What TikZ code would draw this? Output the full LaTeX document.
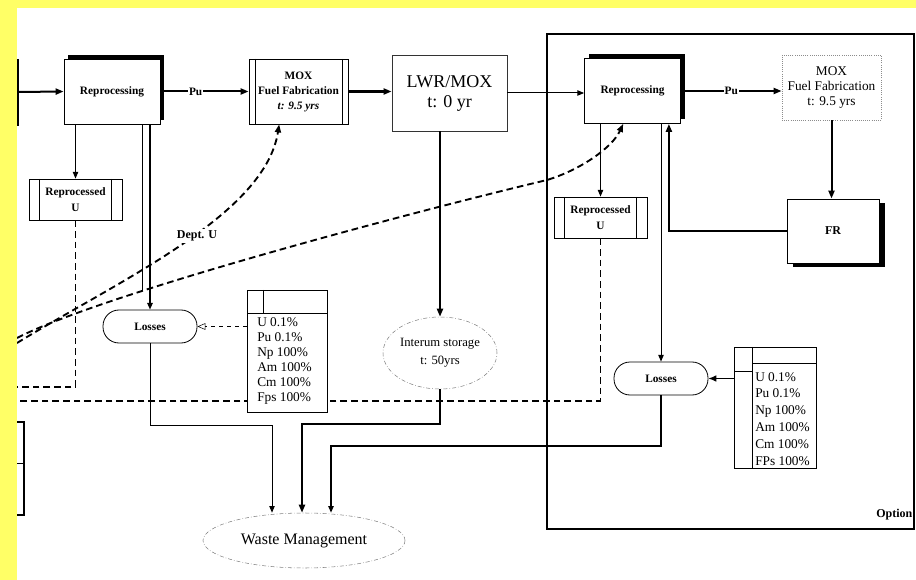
\documentclass[tikz,border=0pt]{standalone}
\usepackage{fontspec}
\setmainfont{Liberation Serif}
\usetikzlibrary{arrows.meta, shapes.geometric, positioning, shadows}
\definecolor{scanyellow}{RGB}{255,255,102}

\begin{document}
\begin{tikzpicture}[x=0.75pt, y=-0.75pt,
    box/.style={draw, fill=white, align=center, inner sep=1pt, line width=0.6pt,
                font=\fontsize{8.5}{11.25}\selectfont\bfseries},
    repbox/.style={box, minimum width=72pt, minimum height=48.75pt,
                   drop shadow={shadow xshift=3pt, shadow yshift=3pt, fill=black, opacity=1}},
    procbox/.style={box, path picture={
        \draw ([xshift=#1]path picture bounding box.north west) -- ([xshift=#1]path picture bounding box.south west);
        \draw ([xshift=-#1]path picture bounding box.north east) -- ([xshift=-#1]path picture bounding box.south east);}},
    procbox/.default=8pt,
    lossbox/.style={box, rounded corners=12pt, minimum width=70.5pt, minimum height=24.75pt},
    store/.style={ellipse, draw=black!50, dash pattern=on 3pt off 1.5pt on 0.5pt off 1.5pt,
                  thin, inner sep=0pt, align=center},
    tabbox/.style={draw, fill=white, inner sep=0pt, line width=0.6pt},
    tabtext/.style={anchor=north west, align=left, inner sep=0pt, font=\fontsize{10}{11.25}\selectfont},
    arr/.style={-{Triangle[length=6pt, width=4.5pt]}, line width=1.5pt},
    thinarr/.style={-{Triangle[length=5pt, width=4pt]}, line width=0.75pt},
    dashline/.style={line width=1.4pt, dash pattern=on 5pt off 3pt},
    lbl/.style={font=\fontsize{8.5}{10}\selectfont\bfseries, fill=white, inner sep=0.5pt}
  ]
  \useasboundingbox (0,0) rectangle (916,580);

  % option frame
  \node[draw, line width=0.9pt, minimum width=275.25pt, minimum height=371.25pt, inner sep=0pt] (optbox) at (730.5,281.5) {};
  \node[font=\fontsize{9}{10}\selectfont\bfseries, anchor=east, inner sep=1pt] (optlbl) at (914,515) {Option};

  % main chain
  \node[repbox] (rep1) at (112,91.5) {Reprocessing};
  \node[procbox=4.5pt, minimum width=74.25pt, minimum height=48.75pt] (mox1) at (298.5,91.5)
    {MOX\\Fuel Fabrication\\\textit{t: 9.5 yrs}};
  \node[box, draw=black!80, font=\fontsize{13.5}{15}\selectfont, minimum width=86.25pt, minimum height=57pt] (lwr) at (449.5,93)
    {LWR/MOX\\t: 0 yr};
  \node[repbox] (rep2) at (632.5,91) {Reprocessing};
  \node[box, draw=black!45, densely dotted, font=\fontsize{10}{11.6}\selectfont, minimum width=74.25pt, minimum height=48.75pt] (mox2) at (831.5,87.5)
    {MOX\\Fuel Fabrication\\t: 9.5 yrs};
  \node[box, font=\fontsize{9}{10}\selectfont\bfseries, minimum width=69pt, minimum height=48pt,
        drop shadow={shadow xshift=4.5pt, shadow yshift=-3pt, fill=black, opacity=1}] (fr) at (833,231) {FR};

  \node[procbox, font=\fontsize{8.5}{12}\selectfont\bfseries, minimum width=69.75pt, minimum height=30.75pt] (ru1) at (75.5,199.5) {Reprocessed\\U};
  \node[procbox, font=\fontsize{8.5}{12}\selectfont\bfseries, minimum width=69.75pt, minimum height=30.75pt] (ru2) at (600.5,217.5) {Reprocessed\\U};

  \node[lossbox] (loss1) at (150,326.5) {Losses};
  \node[lossbox] (loss2) at (661,378.5) {Losses};

  \node[store, minimum width=85.5pt, minimum height=54pt, font=\fontsize{9.5}{13.5}\selectfont] (inter) at (440,353)
    {Interum storage\\t: 50yrs};
  \node[store, minimum width=151.5pt, minimum height=41.25pt, font=\fontsize{12}{14}\selectfont] (wm) at (304,540.5)
    {Waste Management};

  % flows
  \coordinate (feedin) at (18,92);
  \draw[arr] (feedin) -- (rep1.west);
  \draw[arr] (rep1.east) -- node[lbl, pos=0.4] {Pu} (mox1.west);
  \draw[arr, line width=2.2pt] (mox1.east) -- (lwr.west |- mox1.east);
  \draw[thinarr] (lwr.east) -- (rep2.west |- lwr.east);
  \draw[arr] (rep2.east) -- node[lbl] {Pu} (rep2.east -| mox2.west);
  \draw[arr] (mox2.south) -- (mox2.south |- fr.north);
  \draw[arr, line width=1.8pt] (fr.west) -| ([xshift=-9pt]rep2.south east);

  \draw[thinarr] (rep1.south -| ru1.north) -- (ru1.north);
  \draw[thinarr, line width=1.1pt] (rep1.south -| loss1.north) -- (loss1.north);
  \draw[thin] ([xshift=-6pt]rep1.south -| loss1.north) -- ++(0,166);
  \draw[thinarr] (rep2.south -| ru2.north) -- (ru2.north);
  \draw[thinarr] (rep2.south -| loss2.north) -- (loss2.north);
  \draw[arr] (lwr.south -| inter.north) -- (inter.north);

  % to waste management
  \draw[thinarr] (loss1.south) |- (272,425) -- ([xshift=-24pt]wm.north);
  \draw[arr, line width=2pt] (inter.south) |- (302,424) -- ([xshift=-1.5pt]wm.north);
  \draw[thinarr, line width=1.1pt] (loss2.south) |- (331,446) -- ([xshift=20.25pt]wm.north);

  % depleted / reprocessed uranium
  \coordinate (ru1out) at (17,387);
  \coordinate (ru2out) at (17,401);
  \coordinate (deptin) at (17,343);
  \coordinate (depbin) at (17,338);
  \draw[dashline] (ru1.south) |- (ru1out);
  \draw[dashline] (ru2.south) |- (ru2out);
  \draw[dashline, -{Triangle[length=6pt, width=4.5pt]}] (deptin)
    .. controls (120,280) and (265,215) .. ([xshift=-14.5pt]mox1.south);
  \draw[dashline, -{Triangle[length=6pt, width=4.5pt]}] (depbin)
    .. controls (100,295) and (400,215) .. (547,180)
    .. controls (580,170) and (612,148) .. ([xshift=-7pt]rep2.south);
  \node[font=\fontsize{9}{10}\selectfont\bfseries, fill=white, inner sep=1pt] (deptlbl) at (197,236) {Dept. U};

  % loss tables
  \node[tabbox, minimum width=60pt, minimum height=91.5pt] (tab1) at (287,351) {};
  \draw (247,313) -- (327,313);
  \draw (263,290) -- (263,313);
  \node[tabtext] (tab1txt) at (257,317) {U 0.1\%\\Pu 0.1\%\\Np 100\%\\Am 100\%\\Cm 100\%\\Fps 100\%};
  \node[tabbox, minimum width=61.5pt, minimum height=90.75pt] (tab2) at (775,407.5) {};
  \draw (752,347) -- (752,468);
  \draw (752,363) -- (816,363);
  \draw (734,371) -- (752,371);
  \node[tabtext, font=\fontsize{10}{12.6}\selectfont] (tab2txt) at (755,372) {U 0.1\%\\Pu 0.1\%\\Np 100\%\\Am 100\%\\Cm 100\%\\FPs 100\%};
  \draw[dashed, thin, -{Triangle[open, length=6pt, width=5pt]}] (tab1.west |- loss1.east) -- (loss1.east);
  \draw[-{Latex[length=6pt, width=5pt]}, line width=0.75pt] (tab2.west |- loss2.east) -- (loss2.east);

  % boxes cut off at the left edge
  \draw[line width=1.5pt] (0,60) rectangle (18,125);
  \draw[line width=1.2pt] (0,422) rectangle (24,515);
  \draw (0,463) -- (24,463);

  % scan border
  \fill[scanyellow] (0,0) rectangle (916,8);
  \fill[scanyellow] (0,0) rectangle (17,580);
\end{tikzpicture}
\end{document}
